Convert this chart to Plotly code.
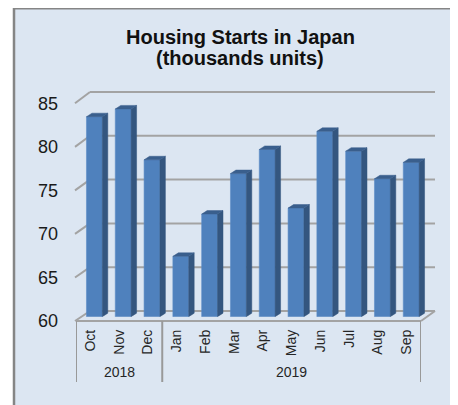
import plotly.graph_objects as go

# ---- data ----
months = ["Oct", "Nov", "Dec", "Jan", "Feb", "Mar", "Apr", "May", "Jun", "Jul", "Aug", "Sep"]
years = ["2018", "2019"]
year_spans = [(0, 2), (3, 11)]
starts = [83.2, 84.1, 78.2, 67.0, 71.9, 76.6, 79.4, 72.6, 81.5, 79.2, 76.0, 77.9]
y_ticks = [60, 65, 70, 75, 80, 85]
title_lines = ["Housing Starts in Japan", "(thousands units)"]

# the page body has an 8px margin; lay the figure out in screen pixels
OFF = 8
W, H = 458 - OFF, 405 - OFF
FONT = "Liberation Sans, Arial, sans-serif"
BG = "#DCE6F2"
GRID = "#A3A3A3"
FRONT = "#4F81BD"
SIDE = "#34567F"
TOP = "#3A5F8D"


def px(x):
    return (x - OFF) / W


def py(y):
    return 1 - (y - OFF) / H


YMIN, YMAX = y_ticks[0], y_ticks[-1]
front_x = [px(76), px(421)]
front_y = [py(321), py(103.3)]
back_x = [px(90), px(435)]
back_y = [py(311), py(92)]
bar_x = [px(80), px(425.6)]
bar_y = [py(316.7), py(101.2)]


def vmap(v, dom):
    return dom[0] + (v - YMIN) / (YMAX - YMIN) * (dom[1] - dom[0])


n = len(months)
idx = list(range(n))
bw = 0.55
ddx = 0.19   # depth offset in category units
ddy = 0.41   # depth offset in value units

side_x, side_y, top_x, top_y = [], [], [], []
for i, v in zip(idx, starts):
    xl, xr = i - bw / 2, i + bw / 2
    side_x += [xr, xr, xr + ddx, xr + ddx, xr, None]
    side_y += [YMIN, v, v + ddy, YMIN + ddy, YMIN, None]
    top_x += [xl, xr, xr + ddx, xl + ddx, xl, None]
    top_y += [v, v, v + ddy, v + ddy, v, None]

fig = go.Figure()

fig.add_trace(go.Scatter(x=[0.5], y=[YMIN + 1], xaxis="x2", yaxis="y2", mode="markers",
                         marker=dict(opacity=0), hoverinfo="skip", showlegend=False))
fig.add_trace(go.Scatter(x=[0], y=[YMIN + 1], xaxis="x", yaxis="y", mode="markers",
                         marker=dict(opacity=0), hoverinfo="skip", showlegend=False))

fig.add_trace(go.Bar(x=idx, y=starts, xaxis="x3", yaxis="y3", width=bw,
                     marker=dict(color=FRONT, line=dict(color="#5B8CC6", width=0.6)),
                     showlegend=False, hoverinfo="y"))
fig.add_trace(go.Scatter(x=side_x, y=side_y, xaxis="x3", yaxis="y3", mode="lines",
                         fill="toself", fillcolor=SIDE, line=dict(color=SIDE, width=0.5),
                         hoverinfo="skip", showlegend=False))
fig.add_trace(go.Scatter(x=top_x, y=top_y, xaxis="x3", yaxis="y3", mode="lines",
                         fill="toself", fillcolor=TOP, line=dict(color=TOP, width=0.5),
                         hoverinfo="skip", showlegend=False))

shapes = []
shapes.append(dict(type="rect", xref="paper", yref="paper", x0=px(14), x1=1.2, y0=-0.2, y1=py(8.2),
                   fillcolor=BG, line=dict(color="#858585", width=2.5), layer="below"))
for v in y_ticks:
    shapes.append(dict(type="line", xref="paper", yref="paper",
                       x0=px(75), y0=vmap(v, front_y), x1=back_x[0], y1=vmap(v, back_y),
                       line=dict(color=GRID, width=2), layer="below"))
    shapes.append(dict(type="line", xref="paper", yref="paper",
                       x0=back_x[0], y0=vmap(v, back_y), x1=back_x[1], y1=vmap(v, back_y),
                       line=dict(color=GRID, width=2), layer="below"))
shapes.append(dict(type="line", xref="paper", yref="paper", x0=front_x[0], x1=front_x[1],
                   y0=front_y[0], y1=front_y[0], line=dict(color=GRID, width=2), layer="below"))
shapes.append(dict(type="line", xref="paper", yref="paper", x0=front_x[1], x1=back_x[1],
                   y0=front_y[0], y1=back_y[0], line=dict(color=GRID, width=2), layer="below"))
bounds = [year_spans[0][0] - 0.5] + [s[1] + 0.5 for s in year_spans]
for b in bounds:
    shapes.append(dict(type="line", xref="x", yref="paper", x0=b, x1=b,
                       y0=front_y[0], y1=py(382), line=dict(color="#999999", width=2), layer="below"))

annotations = []
for yl, (a, b) in zip(years, year_spans):
    annotations.append(dict(text=yl, xref="x", yref="paper", x=(a + b) / 2, y=py(372),
                            showarrow=False, font=dict(family=FONT, size=14, color="#262626"),
                            xanchor="center", yanchor="middle"))
annotations.append(dict(text="<b>%s</b>" % title_lines[0], xref="paper", yref="paper", x=px(240),
                        y=py(37), showarrow=False, font=dict(family=FONT, size=20, color="#111111"),
                        xanchor="center", yanchor="middle"))
annotations.append(dict(text="<b>%s</b>" % title_lines[1], xref="paper", yref="paper", x=px(240),
                        y=py(58), showarrow=False, font=dict(family=FONT, size=20, color="#111111"),
                        xanchor="center", yanchor="middle"))

fig.update_layout(
    template="none",
    width=W, height=H, margin=dict(l=0, r=0, t=0, b=0, pad=0),
    paper_bgcolor="white", plot_bgcolor="rgba(0,0,0,0)",
    shapes=shapes, annotations=annotations, hovermode="closest",
    xaxis=dict(domain=front_x, range=[-0.5, n - 0.5], tickvals=idx, ticktext=months,
               tickangle=-90, showgrid=False, zeroline=False, showline=False, ticks="",
               tickfont=dict(family=FONT, size=14, color="#262626"), anchor="y",
               ticklabelstandoff=5, automargin=False, fixedrange=True),
    yaxis=dict(domain=front_y, range=[YMIN, YMAX], tickvals=y_ticks, showgrid=False,
               zeroline=False, showline=False, ticks="", ticklabelstandoff=17,
               tickfont=dict(family=FONT, size=18, color="#1a1a1a"), anchor="x",
               automargin=False, fixedrange=True),
    xaxis2=dict(domain=back_x, range=[0, 1], visible=False, anchor="y2", automargin=False,
                fixedrange=True),
    yaxis2=dict(domain=back_y, range=[YMIN, YMAX], visible=False, anchor="x2", automargin=False,
                fixedrange=True),
    xaxis3=dict(domain=bar_x, range=[-0.5, n - 0.5], visible=False, anchor="y3",
                automargin=False, fixedrange=True),
    yaxis3=dict(domain=bar_y, range=[YMIN, YMAX], visible=False, anchor="x3",
                automargin=False, fixedrange=True),
)

fig.write_html("out.html")
